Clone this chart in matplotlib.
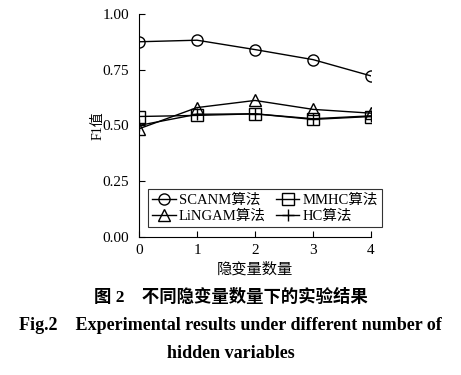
import numpy as np
import matplotlib.pyplot as plt

plt.rcParams['font.family'] = ['Liberation Serif', 'Noto Sans CJK SC']

x = [0, 1, 2, 3, 4]
scanm = [0.875, 0.882, 0.840, 0.795, 0.722]
mmhc = [0.540, 0.545, 0.552, 0.527, 0.540]
lingam = [0.485, 0.580, 0.612, 0.572, 0.555]
hc = [0.500, 0.550, 0.552, 0.530, 0.543]

yticks = [0.00, 0.25, 0.50, 0.75, 1.00]
ytick_labels = ['0.00', '0.25', '0.50', '0.75', '1.00']

fig = plt.figure(figsize=(4.61, 3.75), dpi=100)
ax = fig.add_axes([0.3015, 0.368, 0.5033, 0.595])

mk = dict(color='black', lw=1.0, markersize=8, markerfacecolor='none',
          markeredgewidth=1.0)
l1, = ax.plot(x, scanm, marker='o', label='SCANM算法', **mk)
l2, = ax.plot(x, mmhc, marker='s', label='MMHC算法', **mk)
l3, = ax.plot(x, lingam, marker='^', label='LiNGAM算法', **mk)
l4, = ax.plot(x, hc, marker='+', label='HC算法', **mk)

ax.set_xlim(0, 4)
ax.set_ylim(0, 1.0)
ax.set_xticks(x)
ax.set_yticks(yticks)
ax.set_yticklabels(ytick_labels)
ax.spines['top'].set_visible(False)
ax.spines['right'].set_visible(False)
ax.tick_params(direction='in', length=4, labelsize=11, width=0.8, pad=7)
ax.tick_params(axis='x', pad=5)
ax.set_ylabel('F1值', fontsize=10)
ax.yaxis.set_label_coords(-0.15, 0.5)
ax.set_xlabel('隐变量数量', fontsize=11)
ax.xaxis.set_label_coords(0.5, -0.115)
for sp in ax.spines.values():
    sp.set_linewidth(0.8)

# column-major fill -> order so rows read SCANM/MMHC, LiNGAM/HC
handles = [l1, l3, l2, l4]
leg = ax.legend(handles, [h.get_label() for h in handles], ncol=2,
                loc='lower left', fontsize=10.5, frameon=True,
                fancybox=False, edgecolor='black', handlelength=1.6,
                handletextpad=0.2, columnspacing=0.8, labelspacing=0.15,
                borderpad=0.3, borderaxespad=0,
                bbox_to_anchor=(148 / 461, 1 - 227 / 375, (382 - 148) / 461, (227 - 183) / 375),
                bbox_transform=fig.transFigure, mode='expand')
leg.get_frame().set_linewidth(0.8)

fig.text(0.5, 1 - 297 / 375, '图 2　不同隐变量数量下的实验结果', ha='center', va='center',
         fontsize=12.5, fontweight='bold')
fig.text(0.5, 1 - 325 / 375, 'Fig.2　Experimental results under different number of',
         ha='center', va='center', fontsize=13, fontweight='bold')
fig.text(0.5, 1 - 354 / 375, 'hidden variables', ha='center', va='center',
         fontsize=13, fontweight='bold')

fig.savefig('out.png', dpi=100)
